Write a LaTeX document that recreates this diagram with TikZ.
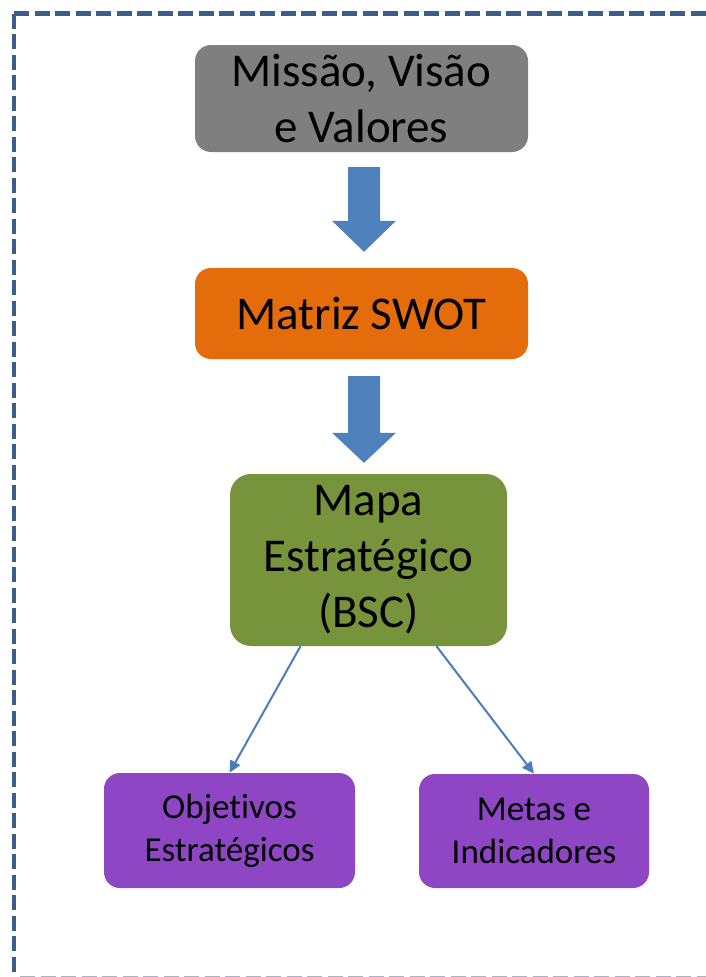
\documentclass[tikz,border=0pt]{standalone}
\usepackage{fontspec}
\setmainfont{Carlito}[Ligatures=NoCommon]
\usepackage{tikz}
\usetikzlibrary{arrows.meta,calc}

\definecolor{framecol}{HTML}{3B5D8C}
\definecolor{edgegray}{HTML}{A9B4C6}
\definecolor{boxgray}{HTML}{7F7F7F}
\definecolor{boxorange}{HTML}{E46C0A}
\definecolor{boxgreen}{HTML}{77933C}
\definecolor{boxpurple}{HTML}{8F46C4}
\definecolor{arrowblue}{HTML}{4F81BD}
\definecolor{linkblue}{HTML}{4A7EBB}

\begin{document}
\begin{tikzpicture}[x=1pt,y=-1pt,
    box/.style={rounded corners=16pt,align=center,inner sep=0pt,text=black},
    bigtext/.style={font=\fontsize{47}{56}\selectfont},
    smalltext/.style={font=\fontsize{35}{43}\selectfont},
    blockarrow/.style={fill=arrowblue},
    thinarrow/.style={draw=linkblue,line width=2pt,-{Triangle[length=12pt,width=11pt]}},
    frame/.style={draw=framecol,line width=4.5pt,dash pattern=on 15pt off 5.5pt}]
      \useasboundingbox (0,0) rectangle (706,977);
      \clip (0,0) rectangle (706,977);
      % dashed frame (cut off on the right)
      \draw[frame] (14,13.5)--(720,13.5);
      \draw[frame] (14,13.5)--(14,990);
      \draw[draw=edgegray,line width=1.5pt,dash pattern=on 15pt off 5.5pt] (20,976.5)--(706,976.5);
      \node (mvv) at (361.5,98.5) [box,bigtext,fill=boxgray,minimum width=333pt,minimum height=107pt] {Missão, Visão\\e Valores};
      \node (swot) at (361.5,313.5) [box,bigtext,fill=boxorange,minimum width=333pt,minimum height=91pt] {Matriz SWOT};
      \node (bsc) at (368.5,560) [box,bigtext,fill=boxgreen,rounded corners=21pt,minimum width=277pt,minimum height=172pt] {Mapa\\Estratégico\\(BSC)};
      \node (obj) at (229.5,830.5) [box,smalltext,fill=boxpurple,minimum width=251pt,minimum height=115pt] {Objetivos\\Estratégicos};
      \node (metas) at (534,831) [box,smalltext,fill=boxpurple,minimum width=230pt,minimum height=114pt] {Metas e\\Indicadores};
      \fill[blockarrow] ($(mvv.south)+(-13.5,15)$)--($(mvv.south)+(18.5,15)$)--($(swot.north)+(18.5,-47)$)--($(swot.north)+(34.5,-47)$)--($(swot.north)+(2.5,-16)$)--($(swot.north)+(-29.5,-47)$)--($(swot.north)+(-13.5,-47)$)--cycle;
      \fill[blockarrow] ($(swot.south)+(-13.5,17)$)--($(swot.south)+(18.5,17)$)--($(bsc.north)+(11.5,-41)$)--($(bsc.north)+(27.5,-41)$)--($(bsc.north)+(-4.5,-11)$)--($(bsc.north)+(-36.5,-41)$)--($(bsc.north)+(-20.5,-41)$)--cycle;
      \draw[thinarrow] ([xshift=-68pt]bsc.south)--(obj.north);
      \draw[thinarrow] ([xshift=68pt]bsc.south)--(metas.north);
    \end{tikzpicture}
\end{document}
